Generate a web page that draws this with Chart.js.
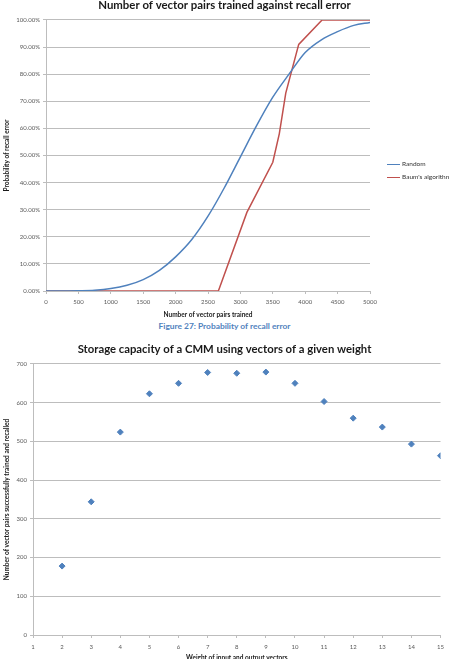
<!DOCTYPE html>
<html>
<head>
<meta charset="utf-8">
<script src="https://cdn.jsdelivr.net/npm/chart.js@4/dist/chart.umd.min.js"></script>
<style>
  body { margin: 0; width: 449px; height: 659px; overflow: hidden; background: #fff; position: relative; font-family: Lato, sans-serif; }
  canvas { position: absolute; left: 0; }
  #c1 { top: -2px; }
  #c2 { top: 335px; }
  .caption { position: absolute; top: 320.5px; left: 0; width: 449px; text-align: center; font: bold 8.4px Lato; color: #4f81bd; }
  .legend { position: absolute; left: 387px; font: 6.5px Lato; color: #333; }
  .legend div { height: 13px; line-height: 8px; white-space: nowrap; }
  .legend span { display: inline-block; width: 13px; height: 0; border-top: 1.5px solid; vertical-align: middle; margin-right: 2px; }
</style>
</head>
<body>
<canvas id="c1" width="449" height="322"></canvas>
<div class="legend" style="top:160px">
  <div><span style="border-color:#4f81bd"></span>Random</div>
  <div><span style="border-color:#c0504d"></span>Baum's algorithm</div>
</div>
<div class="caption">Figure 27: Probability of recall error</div>
<canvas id="c2" width="449" height="330"></canvas>
<script>
// Figure 27 data (percent)
const randomX = [0, 250, 500, 750, 1000, 1250, 1500, 1750, 2000, 2250, 2500, 2750, 3000, 3250, 3500, 3750, 4000, 4250, 4500, 4750, 5000];
const randomY = [0, 0, 0.1, 0.3, 0.9, 2.1, 4.2, 7.6, 12.6, 19, 27.6, 38, 49.5, 61, 71.5, 80, 88, 92.7, 95.7, 98, 99.1];
const baumX = [0, 2660, 3100, 3500, 3600, 3700, 3900, 4260, 5000];
const baumY = [0, 0, 29, 47.5, 58, 73, 91, 100, 100];

// storage capacity data
const weights = [2, 3, 4, 5, 6, 7, 8, 9, 10, 11, 12, 13, 14, 15];
const capacity = [178, 344, 524, 623, 650, 678, 676, 679, 650, 603, 560, 537, 493, 463];

const gridColor = '#bdbdbd';
const tickColor = '#595959';

Chart.defaults.font.family = 'Lato';
Chart.defaults.animation = false;
Chart.defaults.responsive = false;

function toPoints(xs, ys) {
    return xs.map((x, i) => ({ x: x, y: ys[i] }));
}

// empty right-hand axis used only to reserve space (keeps title centred on the canvas)
function spacerAxis(w) {
    return {
        position: 'right',
        display: true,
        afterFit: s => { s.width = w; },
        ticks: { display: false },
        grid: { display: false },
        border: { display: false }
    };
}

new Chart(document.getElementById('c1'), {
    type: 'line',
    data: {
        datasets: [{
            label: 'Random',
            data: toPoints(randomX, randomY),
            borderColor: '#4f81bd',
            borderWidth: 1.5,
            pointRadius: 0,
            cubicInterpolationMode: 'monotone'
        }, {
            label: "Baum's algorithm",
            data: toPoints(baumX, baumY),
            borderColor: '#c0504d',
            borderWidth: 1.5,
            pointRadius: 0,
            tension: 0
        }]
    },
    options: {
        layout: { padding: 0 },
        plugins: {
            legend: { display: false },
            tooltip: { enabled: false },
            title: {
                display: true,
                text: 'Number of vector pairs trained against recall error',
                font: { size: 11.4, weight: 'bold' },
                color: '#1a1a1a',
                padding: { top: 0.5, bottom: 7.8 }
            }
        },
        scales: {
            x: {
                type: 'linear',
                min: 0, max: 5000,
                afterFit: s => { s.height = 29; },
                ticks: { stepSize: 500, font: { size: 6 }, color: tickColor, padding: 4, callback: v => String(v) },
                grid: { display: true, drawOnChartArea: false, color: gridColor, tickLength: 3 },
                border: { color: gridColor },
                title: { display: true, text: 'Number of vector pairs trained', font: { size: 6.5, weight: 'bold' }, color: '#1a1a1a', padding: { top: 0, bottom: 0.8 } }
            },
            y: {
                min: 0, max: 100,
                afterFit: s => { s.width = 46; },
                ticks: { stepSize: 10, font: { size: 6 }, color: tickColor, padding: 3, callback: v => v.toFixed(2) + '%' },
                grid: { color: gridColor, tickLength: 3, lineWidth: 1 },
                border: { color: gridColor },
                title: { display: true, text: 'Probability of recall error', font: { size: 6.5, weight: 'bold' }, color: '#1a1a1a', padding: { top: 2.8, bottom: 0 } }
            },
            spacer: spacerAxis(79)
        }
    }
});

new Chart(document.getElementById('c2'), {
    type: 'scatter',
    data: {
        datasets: [{
            label: 'Capacity',
            data: toPoints(weights, capacity),
            backgroundColor: '#4f81bd',
            borderColor: '#4f81bd',
            pointStyle: 'rectRot',
            pointRadius: 3
        }]
    },
    options: {
        layout: { padding: 0 },
        plugins: {
            legend: { display: false },
            tooltip: { enabled: false },
            title: {
                display: true,
                text: 'Storage capacity of a CMM using vectors of a given weight',
                font: { size: 11.3, weight: 'bold' },
                color: '#1a1a1a',
                padding: { top: 7.2, bottom: 8.2 }
            }
        },
        scales: {
            x: {
                type: 'linear',
                min: 1, max: 15,
                afterFit: s => { s.height = 30; },
                ticks: { stepSize: 1, font: { size: 6 }, color: tickColor, padding: 5 },
                grid: { display: true, drawOnChartArea: false, color: gridColor, tickLength: 3 },
                border: { color: gridColor },
                title: { display: true, text: 'Weight of input and output vectors', font: { size: 6.5, weight: 'bold' }, color: '#1a1a1a', padding: { top: 0, bottom: 2.8 } }
            },
            y: {
                min: 0, max: 700,
                afterFit: s => { s.width = 33; },
                ticks: { stepSize: 100, font: { size: 6 }, color: tickColor, padding: 3 },
                grid: { color: gridColor, tickLength: 3 },
                border: { color: gridColor },
                title: { display: true, text: 'Number of vector pairs successfully trained and recalled', font: { size: 6.5, weight: 'bold' }, color: '#1a1a1a', padding: { top: 2.8, bottom: 0 } }
            },
            spacer: spacerAxis(4)
        }
    }
});
</script>
</body>
</html>
